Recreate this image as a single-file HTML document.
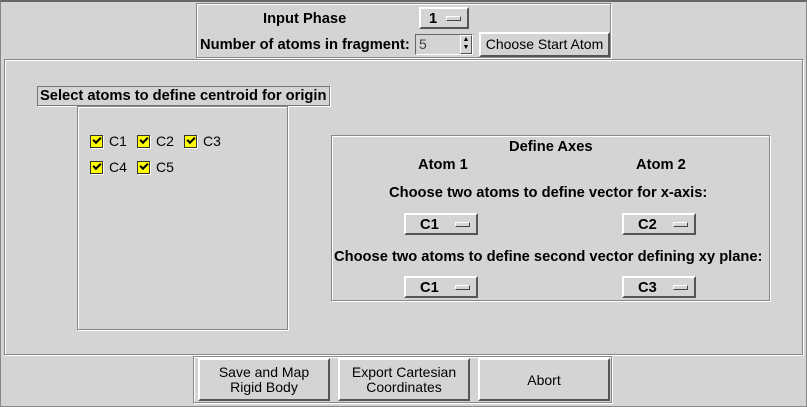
<!DOCTYPE html><html><head><style>
body{margin:0;width:807px;height:407px;background:#d4d4d4;font-family:"Liberation Sans",Arial,sans-serif;font-size:14px;color:#000;position:relative;overflow:hidden}
div{position:absolute;box-sizing:border-box}
.b{font-weight:bold;font-size:14.7px;margin-top:1px}
.grv{border:1px solid #888;box-shadow:1px 1px 0 #fff inset,1px 1px 0 #fff}
.btn{background:#d4d4d4;border:2px solid;border-color:#fff #555 #555 #fff;text-align:center;line-height:15px}
.mb{background:#d4d4d4;border:2px solid;border-color:#fff #555 #555 #fff;font-weight:bold;font-size:14.7px;line-height:20px;padding-left:14px}
.ind{width:15px;height:5px;border:1px solid;border-color:#fff #444 #444 #fff;background:#d4d4d4}
.t{white-space:nowrap}
.cb{width:13px;height:13px;background:#ff0;border:1px solid #333;box-shadow:1px 1px 0 #fff}
.cb:after{content:"";position:absolute;left:2px;top:1px;width:6px;height:3px;border-left:2px solid #000;border-bottom:2px solid #000;transform:rotate(-45deg)}
</style></head><body>
<div style="left:0;top:0;width:807px;height:407px;border:1px solid #888;border-top:2px solid #666"></div>
<div class="grv" style="left:196px;top:3px;width:415px;height:55px"></div>
<div class="t b" style="left:263px;top:10px">Input Phase</div>
<div class="mb" style="left:419px;top:7px;width:50px;height:22px;padding-left:8px">1<div class="ind" style="left:25px;top:7px"></div></div>
<div class="t b" style="left:200px;top:36px">Number of atoms in fragment:</div>
<div style="left:415px;top:34px;width:58px;height:21px;background:#d4d4d4;border:1px solid;border-color:#666 #fff #fff #666;padding-left:3px;line-height:18px;color:#444">5</div>
<div style="left:460px;top:35px;width:12px;height:19px;border:1px solid;border-color:#fff #555 #555 #fff;font-size:7px;line-height:8px;text-align:center">▲<br>▼</div>
<div class="btn" style="left:479px;top:32px;width:131px;height:25px;line-height:21px">Choose Start Atom</div>
<div class="grv" style="left:4px;top:59px;width:799px;height:296px"></div>
<div class="t b" style="left:37px;top:86px;width:293px;height:20px;margin-top:0;border:1px solid #777;box-shadow:1px 1px 0 #fff;padding-left:2px;line-height:19px">Select atoms to define centroid for origin</div>
<div class="grv" style="left:77px;top:106px;width:211px;height:224px"></div>
<div class="cb" style="left:90px;top:135px"></div><div class="t" style="left:109px;top:133px">C1</div>
<div class="cb" style="left:137px;top:135px"></div><div class="t" style="left:156px;top:133px">C2</div>
<div class="cb" style="left:184px;top:135px"></div><div class="t" style="left:203px;top:133px">C3</div>
<div class="cb" style="left:90px;top:161px"></div><div class="t" style="left:109px;top:159px">C4</div>
<div class="cb" style="left:137px;top:161px"></div><div class="t" style="left:156px;top:159px">C5</div>
<div class="grv" style="left:331px;top:135px;width:439px;height:166px"></div>
<div class="t b" style="left:509px;top:138px">Define Axes</div>
<div class="t b" style="left:418px;top:156px">Atom 1</div>
<div class="t b" style="left:636px;top:156px">Atom 2</div>
<div class="t b" style="left:389px;top:184px">Choose two atoms to define vector for x-axis:</div>
<div class="mb" style="left:404px;top:213px;width:74px;height:22px">C1<div class="ind" style="left:49px;top:7px"></div></div>
<div class="mb" style="left:622px;top:213px;width:74px;height:22px">C2<div class="ind" style="left:49px;top:7px"></div></div>
<div class="t b" style="left:334px;top:248px">Choose two atoms to define second vector defining xy plane:</div>
<div class="mb" style="left:404px;top:276px;width:74px;height:22px">C1<div class="ind" style="left:49px;top:7px"></div></div>
<div class="mb" style="left:622px;top:276px;width:74px;height:22px">C3<div class="ind" style="left:49px;top:7px"></div></div>
<div class="grv" style="left:193px;top:356px;width:419px;height:47px"></div>
<div class="btn" style="left:198px;top:358px;width:132px;height:43px;padding-top:5px">Save and Map<br>Rigid Body</div>
<div class="btn" style="left:338px;top:358px;width:132px;height:43px;padding-top:5px">Export Cartesian<br>Coordinates</div>
<div class="btn" style="left:478px;top:358px;width:132px;height:43px;padding-top:13px">Abort</div>
</body></html>
